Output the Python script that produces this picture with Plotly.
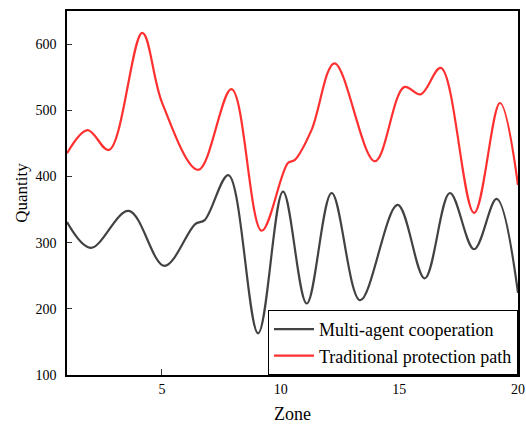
import plotly.graph_objects as go

# Data
red_zone = [1, 1.87, 2.77, 4.17, 5.0, 6.53, 7.93, 9.2, 10.3, 10.6, 11.3, 12.27,
            13.97, 15.2, 15.9, 16.75, 18.15, 19.24, 20]
red_qty = [435, 470, 440, 617, 512, 410, 532, 318, 420, 425, 470, 571,
           423, 535, 524, 564, 345, 511, 387]

black_zone = [1, 2.0, 3.6, 5.1, 6.4, 6.8, 7.8, 9.05, 10.1, 11.1, 12.15, 13.35, 14.93,
              16.07, 17.13, 18.15, 19.1, 20]
black_qty = [331, 292, 348, 265, 328, 334, 402, 163, 377, 208, 375, 213, 357,
             246, 375, 290, 366, 224]

x_ticks = [5, 10, 15, 20]
y_ticks = [100, 200, 300, 400, 500, 600]

FONT = "Liberation Serif, Times New Roman, serif"

fig = go.Figure()
fig.add_trace(go.Scatter(x=black_zone, y=black_qty, mode="lines",
                         name="Multi-agent cooperation",
                         line=dict(color="#424242", width=2.2, shape="spline", smoothing=1.0)))
fig.add_trace(go.Scatter(x=red_zone, y=red_qty, mode="lines",
                         name="Traditional protection path",
                         line=dict(color="#ff3030", width=2.2, shape="spline", smoothing=1.0)))

fig.update_layout(
    width=526, height=428,
    margin=dict(l=67, r=8, t=11, b=53, autoexpand=False),
    paper_bgcolor="white", plot_bgcolor="white",
    font=dict(family=FONT, color="black", size=14),
    showlegend=True,
    legend=dict(x=1, y=0, xanchor="right", yanchor="bottom",
                bgcolor="white", bordercolor="black", borderwidth=1,
                font=dict(family=FONT, size=18, color="black"),
                tracegroupgap=0, itemwidth=40),
    xaxis=dict(range=[1, 20], tickvals=x_ticks, ticks="inside", ticklen=6,
               tickcolor="#333", showline=True, linecolor="black", linewidth=1.5,
               mirror=True, showgrid=False, zeroline=False, automargin=False,
               title=dict(text="Zone", font=dict(family=FONT, size=18), standoff=12),
               tickfont=dict(family=FONT, size=14)),
    yaxis=dict(range=[100, 650], tickvals=y_ticks, ticks="inside", ticklen=5,
               tickcolor="#333", showline=True, linecolor="black", linewidth=1.5,
               mirror=True, showgrid=False, zeroline=False, automargin=False,
               ticklabelstandoff=6,
               title=dict(text="Quantity", font=dict(family=FONT, size=17), standoff=4),
               tickfont=dict(family=FONT, size=14)),
    yaxis2=dict(range=[100, 650], tickvals=y_ticks, ticks="outside", ticklen=5,
                tickcolor="#333", overlaying="y", side="left", showticklabels=False,
                showgrid=False, zeroline=False, showline=False, automargin=False),
)

fig.write_html("out.html")
